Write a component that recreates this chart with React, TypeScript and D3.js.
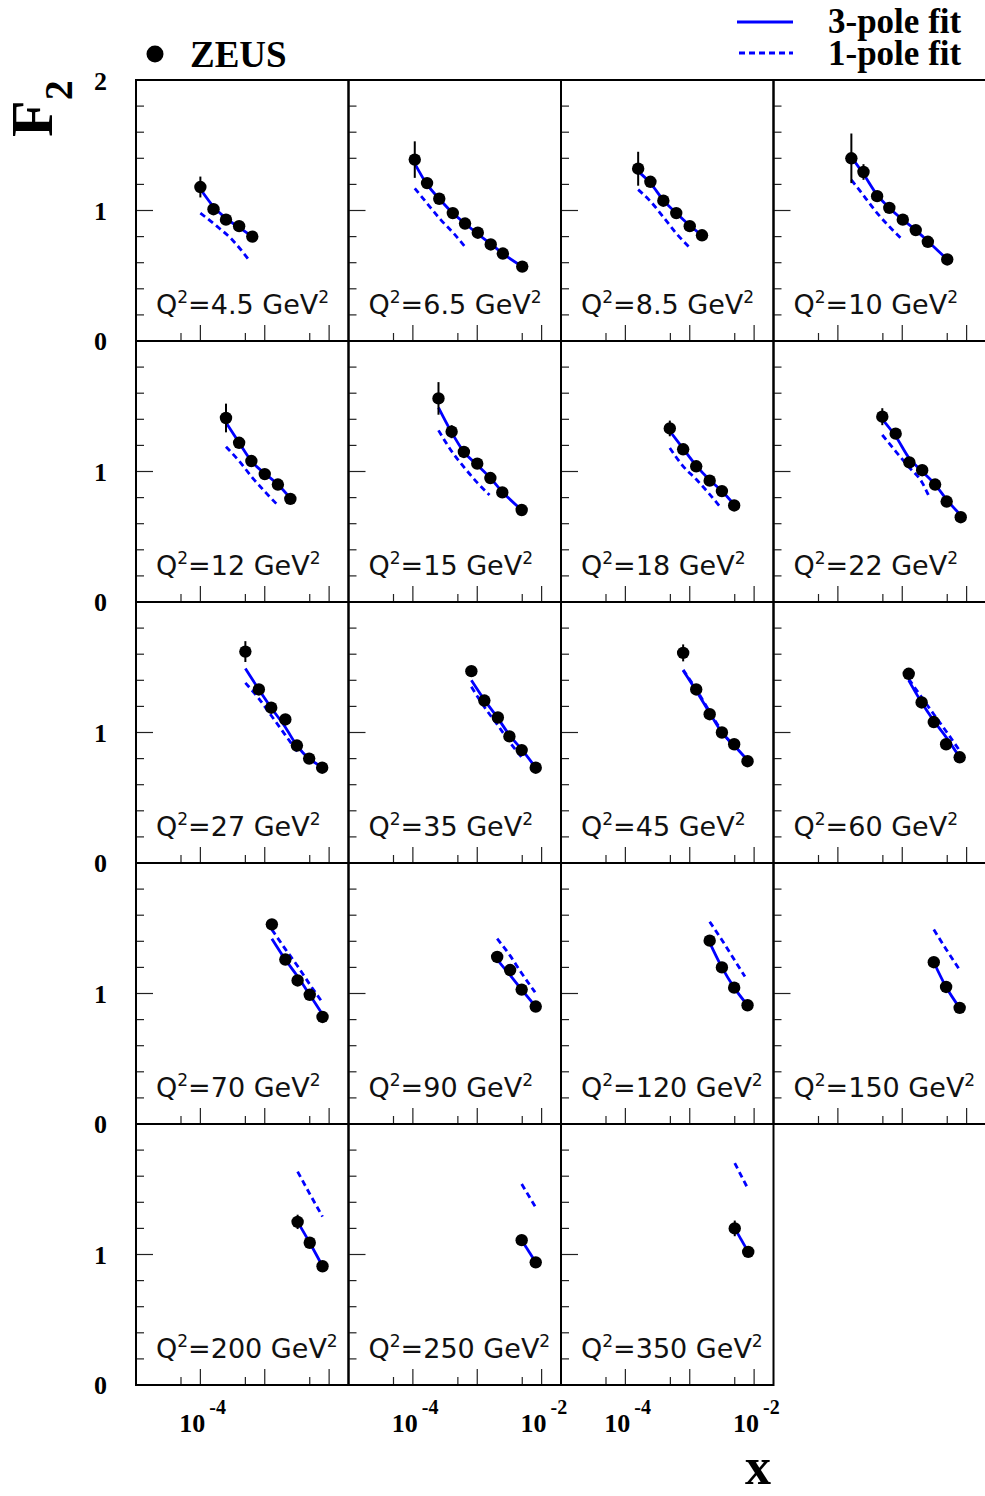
import React from 'react';
import * as d3 from 'd3';

// Q^2 bins, one panel each (row by row)
const q2Labels = ['4.5', '6.5', '8.5', '10', '12', '15', '18', '22', '27', '35', '45', '60', '70', '90', '120', '150', '200', '250', '350'];

// ZEUS data points: x, F2 and error
const xPoints = [
  [1.0e-4, 1.6e-4, 2.5e-4, 4.0e-4, 6.4e-4],
  [1.07e-4, 1.66e-4, 2.57e-4, 4.17e-4, 6.46e-4, 1.02e-3, 1.62e-3, 2.5e-3, 5.0e-3],
  [1.58e-4, 2.45e-4, 3.89e-4, 6.17e-4, 1.0e-3, 1.55e-3],
  [1.62e-4, 2.5e-4, 4.07e-4, 6.3e-4, 1.02e-3, 1.62e-3, 2.5e-3, 5.0e-3],
  [2.5e-4, 4.0e-4, 6.2e-4, 1.0e-3, 1.6e-3, 2.5e-3],
  [2.5e-4, 4.0e-4, 6.2e-4, 1.0e-3, 1.6e-3, 2.45e-3, 4.9e-3],
  [4.9e-4, 7.9e-4, 1.26e-3, 2.04e-3, 3.16e-3, 4.9e-3],
  [4.9e-4, 7.9e-4, 1.29e-3, 2.04e-3, 3.24e-3, 4.9e-3, 8.1e-3],
  [5.0e-4, 8.1e-4, 1.26e-3, 2.09e-3, 3.16e-3, 4.9e-3, 7.8e-3],
  [8.1e-4, 1.29e-3, 2.09e-3, 3.16e-3, 4.9e-3, 8.1e-3],
  [7.9e-4, 1.26e-3, 2.04e-3, 3.16e-3, 4.9e-3, 7.9e-3],
  [1.26e-3, 2.0e-3, 3.09e-3, 4.8e-3, 7.8e-3],
  [1.29e-3, 2.09e-3, 3.24e-3, 5.0e-3, 7.9e-3],
  [2.04e-3, 3.24e-3, 4.9e-3, 8.1e-3],
  [2.04e-3, 3.16e-3, 4.9e-3, 7.9e-3],
  [3.09e-3, 4.8e-3, 7.8e-3],
  [3.24e-3, 5.0e-3, 7.9e-3],
  [4.9e-3, 8.1e-3],
  [5.0e-3, 8.1e-3],
];
const f2Points = [
  [1.18, 1.01, 0.93, 0.88, 0.8],
  [1.39, 1.21, 1.09, 0.98, 0.9, 0.83, 0.74, 0.67, 0.57],
  [1.32, 1.22, 1.075, 0.98, 0.88, 0.81],
  [1.4, 1.295, 1.11, 1.02, 0.93, 0.85, 0.76, 0.625],
  [1.41, 1.22, 1.08, 0.98, 0.9, 0.79],
  [1.56, 1.305, 1.15, 1.06, 0.95, 0.84, 0.705],
  [1.33, 1.17, 1.04, 0.93, 0.85, 0.74],
  [1.42, 1.29, 1.07, 1.01, 0.9, 0.77, 0.65],
  [1.62, 1.33, 1.19, 1.1, 0.9, 0.8, 0.73],
  [1.47, 1.245, 1.115, 0.97, 0.865, 0.73],
  [1.61, 1.33, 1.14, 1.0, 0.91, 0.78],
  [1.45, 1.23, 1.08, 0.91, 0.81],
  [1.53, 1.26, 1.1, 0.99, 0.82],
  [1.28, 1.18, 1.03, 0.9],
  [1.405, 1.2, 1.045, 0.91],
  [1.24, 1.05, 0.89],
  [1.25, 1.09, 0.91],
  [1.11, 0.94],
  [1.2, 1.02],
];
const f2Errors = [
  [0.08, 0.02, 0.02, 0.02, 0.02],
  [0.14, 0.02, 0.02, 0.02, 0.02, 0.02, 0.02, 0.02, 0.02],
  [0.13, 0.02, 0.02, 0.02, 0.02, 0.02],
  [0.19, 0.06, 0.02, 0.02, 0.02, 0.02, 0.02, 0.02],
  [0.11, 0.02, 0.02, 0.02, 0.02, 0.02],
  [0.125, 0.05, 0.02, 0.02, 0.02, 0.02, 0.02],
  [0.06, 0.02, 0.02, 0.02, 0.02, 0.02],
  [0.065, 0.02, 0.02, 0.02, 0.02, 0.02, 0.02],
  [0.08, 0.02, 0.02, 0.02, 0.02, 0.02, 0.02],
  [0.03, 0.02, 0.02, 0.02, 0.02, 0.02],
  [0.065, 0.02, 0.02, 0.02, 0.02, 0.02],
  [0.03, 0.02, 0.02, 0.02, 0.02],
  [0.03, 0.02, 0.02, 0.02, 0.02],
  [0.03, 0.02, 0.02, 0.02],
  [0.03, 0.02, 0.02, 0.02],
  [0.03, 0.02, 0.02],
  [0.055, 0.02, 0.02],
  [0.03, 0.02],
  [0.06, 0.02],
];

// 3-pole fit curves
const fit3X = [
  [1.0e-4, 1.6e-4, 2.5e-4, 4.0e-4, 6.4e-4],
  [1.07e-4, 1.66e-4, 2.57e-4, 4.17e-4, 6.46e-4, 1.02e-3, 1.62e-3, 2.5e-3, 5.0e-3],
  [1.58e-4, 2.45e-4, 3.89e-4, 6.17e-4, 1.0e-3, 1.55e-3],
  [1.62e-4, 2.5e-4, 4.07e-4, 6.3e-4, 1.02e-3, 1.62e-3, 2.5e-3, 5.0e-3],
  [2.5e-4, 4.0e-4, 6.2e-4, 1.0e-3, 1.6e-3, 2.5e-3],
  [2.5e-4, 4.0e-4, 6.2e-4, 1.0e-3, 1.6e-3, 2.45e-3, 4.9e-3],
  [4.9e-4, 7.9e-4, 1.26e-3, 2.04e-3, 3.16e-3, 4.9e-3],
  [4.9e-4, 7.9e-4, 1.29e-3, 2.04e-3, 3.24e-3, 4.9e-3, 8.1e-3],
  [5.0e-4, 8.1e-4, 1.26e-3, 2.09e-3, 3.16e-3, 4.9e-3, 6.9e-3],
  [8.1e-4, 1.29e-3, 2.09e-3, 3.16e-3, 4.9e-3, 8.1e-3],
  [7.9e-4, 1.26e-3, 2.04e-3, 3.16e-3, 4.9e-3, 7.2e-3],
  [1.26e-3, 2.0e-3, 3.09e-3, 4.8e-3, 7.8e-3],
  [1.29e-3, 2.09e-3, 3.24e-3, 5.0e-3, 7.9e-3],
  [2.04e-3, 3.24e-3, 4.9e-3, 8.1e-3],
  [2.04e-3, 3.16e-3, 4.9e-3, 7.9e-3],
  [3.09e-3, 4.8e-3, 7.8e-3],
  [3.24e-3, 5.0e-3, 7.9e-3],
  [4.9e-3, 8.1e-3],
  [5.0e-3, 8.1e-3],
];
const fit3Y = [
  [1.165, 1.03, 0.94, 0.87, 0.8],
  [1.36, 1.2, 1.09, 0.98, 0.9, 0.82, 0.745, 0.67, 0.57],
  [1.3, 1.21, 1.08, 0.98, 0.885, 0.81],
  [1.41, 1.28, 1.12, 1.02, 0.93, 0.85, 0.765, 0.625],
  [1.375, 1.22, 1.08, 0.985, 0.9, 0.795],
  [1.49, 1.3, 1.15, 1.05, 0.95, 0.845, 0.705],
  [1.31, 1.175, 1.045, 0.935, 0.85, 0.745],
  [1.4, 1.27, 1.1, 1.0, 0.9, 0.785, 0.665],
  [1.49, 1.33, 1.19, 1.04, 0.9, 0.8, 0.75],
  [1.4, 1.25, 1.11, 0.98, 0.87, 0.73],
  [1.475, 1.32, 1.15, 1.0, 0.9, 0.81],
  [1.4, 1.23, 1.09, 0.965, 0.81],
  [1.42, 1.26, 1.13, 0.99, 0.84],
  [1.26, 1.14, 1.03, 0.9],
  [1.39, 1.2, 1.045, 0.91],
  [1.24, 1.05, 0.89],
  [1.25, 1.09, 0.91],
  [1.11, 0.94],
  [1.2, 1.02],
];

// 1-pole fit curves
const fit1X = [
  [1.0e-4, 1.8e-4, 3.2e-4, 5.5e-4],
  [1.07e-4, 1.66e-4, 2.7e-4, 4.3e-4, 6.5e-4],
  [1.58e-4, 2.45e-4, 3.89e-4, 6.17e-4, 9.8e-4],
  [1.62e-4, 2.6e-4, 4.07e-4, 6.35e-4, 9.4e-4],
  [2.5e-4, 4.0e-4, 6.5e-4, 1.03e-3, 1.57e-3],
  [2.5e-4, 4.0e-4, 6.3e-4, 1.0e-3, 1.55e-3],
  [4.9e-4, 7.9e-4, 1.26e-3, 2.04e-3, 2.95e-3],
  [4.9e-4, 7.9e-4, 1.29e-3, 2.04e-3, 2.6e-3],
  [5.0e-4, 8.1e-4, 1.26e-3, 2.09e-3, 3.24e-3],
  [8.1e-4, 1.29e-3, 2.09e-3, 3.16e-3, 5.0e-3],
  [7.9e-4, 1.26e-3, 2.04e-3, 3.16e-3, 5.5e-3],
  [1.26e-3, 2.0e-3, 3.09e-3, 4.8e-3, 7.8e-3],
  [1.29e-3, 2.09e-3, 3.24e-3, 5.0e-3, 7.9e-3],
  [2.04e-3, 3.24e-3, 4.9e-3, 7.9e-3],
  [2.04e-3, 3.16e-3, 4.9e-3, 7.2e-3],
  [3.09e-3, 4.8e-3, 7.8e-3],
  [3.24e-3, 5.0e-3, 7.9e-3],
  [4.9e-3, 7.9e-3],
  [5.0e-3, 7.9e-3],
];
const fit1Y = [
  [0.98, 0.88, 0.77, 0.63],
  [1.17, 1.055, 0.93, 0.825, 0.72],
  [1.16, 1.07, 0.95, 0.825, 0.72],
  [1.235, 1.105, 0.98, 0.875, 0.79],
  [1.19, 1.08, 0.95, 0.84, 0.745],
  [1.315, 1.155, 1.03, 0.915, 0.82],
  [1.18, 1.04, 0.94, 0.825, 0.73],
  [1.28, 1.155, 1.03, 0.915, 0.81],
  [1.38, 1.26, 1.13, 0.98, 0.85],
  [1.35, 1.195, 1.055, 0.93, 0.805],
  [1.48, 1.33, 1.16, 1.01, 0.86],
  [1.41, 1.27, 1.14, 1.01, 0.86],
  [1.49, 1.34, 1.21, 1.07, 0.93],
  [1.42, 1.29, 1.155, 1.01],
  [1.55, 1.41, 1.26, 1.13],
  [1.49, 1.34, 1.18],
  [1.635, 1.465, 1.29],
  [1.54, 1.37],
  [1.7, 1.51],
];

// axes
const xTicks = [5e-5, 1e-4, 5e-4, 1e-3, 5e-3, 1e-2];
const xMajorTicks = [1e-4, 1e-3, 1e-2];
const yTicks = [0.2, 0.4, 0.6, 0.8, 1.0, 1.2, 1.4, 1.6, 1.8];
const yMajorTicks = [1.0];
const bottomLabelTicks = [[1e-4], [1e-4, 1e-2], [1e-4, 1e-2]];

const W = 985;
const H = 1496;
const originX = 136;
const originY = 80;
const panelW = 212.5;
const panelH = 261;
const nCols = 4;
const nRows = 5;
const serif = '"Liberation Serif", "Times New Roman", serif';
const sans = '"DejaVu Sans", sans-serif';

const x = d3.scaleLog().domain([1e-5, 2e-2]).range([0, panelW]);
const y = d3.scaleLinear().domain([0, 2]).range([panelH, 0]);

const fitLine = d3
  .line<[number, number]>()
  .x((d) => x(d[0]))
  .y((d) => y(d[1]))
  .curve(d3.curveMonotoneX);

const Panel = ({ i }: { i: number }) => {
  const col = i % nCols;
  const row = Math.floor(i / nCols);
  const tx = originX + col * panelW;
  const ty = originY + row * panelH;
  const f3 = fit3X[i].map((v, k) => [v, fit3Y[i][k]] as [number, number]);
  const f1 = fit1X[i].map((v, k) => [v, fit1Y[i][k]] as [number, number]);
  return (
    <g transform={`translate(${tx},${ty})`}>
      {yTicks.map((t) => (
        <line key={`y${t}`} x1={0} x2={yMajorTicks.includes(t) ? 17 : 8} y1={y(t)} y2={y(t)} stroke="#222" strokeWidth={1.2} />
      ))}
      {xTicks.map((t) => (
        <line key={`x${t}`} x1={x(t)} x2={x(t)} y1={panelH} y2={panelH - (xMajorTicks.includes(t) ? 16 : 8)} stroke="#222" strokeWidth={1.2} />
      ))}
      <path d={fitLine(f1) || ''} fill="none" stroke="#0000ff" strokeWidth={2.8} strokeDasharray="6,4" />
      <path d={fitLine(f3) || ''} fill="none" stroke="#0000ff" strokeWidth={2.8} />
      {xPoints[i].map((v, k) => (
        <g key={k}>
          <line x1={x(v)} x2={x(v)} y1={y(f2Points[i][k] - f2Errors[i][k])} y2={y(f2Points[i][k] + f2Errors[i][k])} stroke="#000" strokeWidth={2} />
          <circle cx={x(v)} cy={y(f2Points[i][k])} r={6.2} fill="#000" />
        </g>
      ))}
      <text x={20} y={234} fontFamily={sans} fontSize={27} fill="#111">
        Q<tspan fontSize={17} dy={-11}>2</tspan>
        <tspan dy={11}>={q2Labels[i]} GeV</tspan>
        <tspan fontSize={17} dy={-11}>2</tspan>
      </text>
      <rect x={0} y={0} width={panelW} height={panelH} fill="none" stroke="#000" strokeWidth={2} />
    </g>
  );
};

const App = () => {
  return (
    <svg width={W} height={H} style={{ position: 'absolute', left: 0, top: 0, background: '#fff' }}>
      <rect x={0} y={0} width={W} height={H} fill="#fff" />
      {q2Labels.map((_, i) => (
        <Panel key={i} i={i} />
      ))}

      {/* y labels */}
      <text x={107} y={originY + 10} textAnchor="end" fontFamily={serif} fontWeight="bold" fontSize={26}>2</text>
      {d3.range(nRows).map((r) => (
        <g key={r}>
          <text x={107} y={originY + r * panelH + y(1) + 9} textAnchor="end" fontFamily={serif} fontWeight="bold" fontSize={26}>1</text>
          <text x={107} y={originY + r * panelH + y(0) + 9} textAnchor="end" fontFamily={serif} fontWeight="bold" fontSize={26}>0</text>
        </g>
      ))}

      {/* x labels under the bottom row */}
      {bottomLabelTicks.map((ticks, c) =>
        ticks.map((t) => {
          const px = originX + c * panelW + x(t);
          return (
            <g key={`${c}-${t}`} fontFamily={serif} fontWeight="bold">
              <text x={px + 5} y={1432} textAnchor="end" fontSize={26}>10</text>
              <text x={px + 9} y={1414} fontSize={20}>{Math.round(Math.log10(t))}</text>
            </g>
          );
        })
      )}

      {/* axis titles */}
      <text transform="translate(52,137) rotate(-90)" fontFamily={serif} fontWeight="bold" fontSize={60}>
        F<tspan fontSize={40} dy={20}>2</tspan>
      </text>
      <text x={745} y={1484} fontFamily={serif} fontWeight="bold" fontSize={52}>x</text>

      {/* legend */}
      <circle cx={155} cy={54} r={8.5} fill="#000" />
      <text x={190} y={67} fontFamily={serif} fontWeight="bold" fontSize={37}>ZEUS</text>
      <line x1={737} x2={793} y1={22} y2={22} stroke="#0000ff" strokeWidth={2.8} />
      <text x={828} y={33} fontFamily={serif} fontWeight="bold" fontSize={35}>3-pole fit</text>
      <line x1={739} x2={793} y1={53} y2={53} stroke="#0000ff" strokeWidth={2.8} strokeDasharray="6,4" />
      <text x={828} y={65} fontFamily={serif} fontWeight="bold" fontSize={35}>1-pole fit</text>
    </svg>
  );
};

export default App;
